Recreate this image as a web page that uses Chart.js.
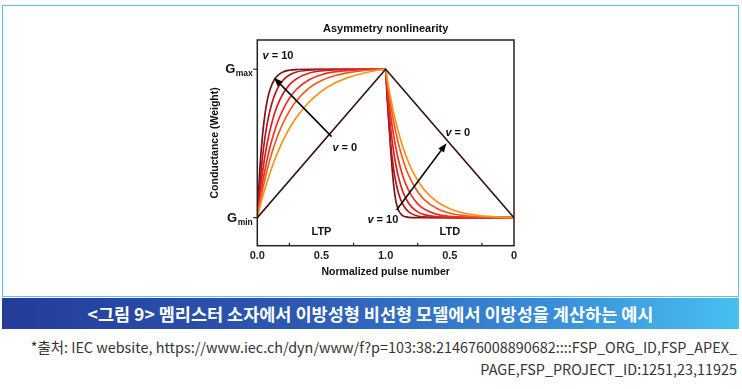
<!DOCTYPE html>
<html><head><meta charset="utf-8">
<script src="https://cdn.jsdelivr.net/npm/chart.js@4"></script>
<style>
html,body{margin:0;padding:0;background:#fff;width:742px;height:389px;overflow:hidden;}
#box{position:absolute;left:2px;top:5px;width:737px;height:292px;border:1px solid #55c4ef;box-sizing:border-box;}
#cv{position:absolute;left:0;top:0;}
#banner{position:absolute;left:2px;top:298px;width:737px;height:31px;background:linear-gradient(to right,#233d99 0%,#2d58b2 40%,#3a8ed8 75%,#48c0f0 100%);color:#fff;font-family:"Noto Sans CJK KR","Noto Sans",sans-serif;font-weight:700;font-size:17.5px;line-height:31px;text-align:center;letter-spacing:0;}
.src{position:absolute;right:5px;font-family:"Noto Sans CJK KR","Noto Sans",sans-serif;font-size:14.4px;color:#333;text-align:right;white-space:nowrap;letter-spacing:0;}
</style></head>
<body>
<div id="box"></div>
<canvas id="cv" width="742" height="296"></canvas>
<div id="banner">&lt;그림 9&gt; 멤리스터 소자에서 이방성형 비선형 모델에서 이방성을 계산하는 예시</div>
<div class="src" style="top:336px">*출처: IEC website, https://www.iec.ch/dyn/www/f?p=103:38:214676008890682::::FSP_ORG_ID,FSP_APEX_</div>
<div class="src" style="top:358px">PAGE,FSP_PROJECT_ID:1251,23,11925</div>
<script>
// ---- data ----
const xTickValues = [0, 0.5, 1, 1.5, 2];
const xTickLabels = ['0.0', '0.5', '1.0', '0.5', '0'];
const curveNames = ['v = 10', 'curve 2', 'curve 3', 'curve 4', 'curve 5', 'curve 6'];
const curveColors = ['#7a1414', '#b3161e', '#d91f1f', '#ec3024', '#f3591d', '#f7941d'];

const ltpX = [0, 0.02, 0.04, 0.06, 0.08, 0.1, 0.13, 0.16, 0.2, 0.25, 0.3, 0.4, 0.5, 0.6, 0.7, 0.85, 1.0];
const ltp1 = [0, 0.33, 0.55, 0.70, 0.80, 0.865, 0.926, 0.959, 0.982, 0.993, 0.998, 1, 1, 1, 1, 1, 1];
const ltp2 = [0, 0.229, 0.405, 0.542, 0.647, 0.727, 0.815, 0.875, 0.926, 0.961, 0.980, 0.994, 0.998, 1, 1, 1, 1];
const ltp3 = [0, 0.165, 0.302, 0.417, 0.513, 0.593, 0.690, 0.763, 0.835, 0.895, 0.933, 0.973, 0.989, 0.995, 0.998, 1, 1];
const ltp4 = [0, 0.122, 0.229, 0.323, 0.405, 0.479, 0.571, 0.648, 0.728, 0.804, 0.860, 0.927, 0.963, 0.982, 0.991, 0.997, 1];
const ltp5 = [0, 0.096, 0.182, 0.261, 0.332, 0.396, 0.481, 0.555, 0.636, 0.718, 0.782, 0.871, 0.924, 0.956, 0.976, 0.993, 1];
const ltp6 = [0, 0.070, 0.135, 0.195, 0.252, 0.304, 0.377, 0.442, 0.519, 0.601, 0.670, 0.776, 0.852, 0.905, 0.942, 0.978, 1];

const ltdX = [1, 1.01, 1.02, 1.04, 1.06, 1.08, 1.1, 1.13, 1.16, 1.2, 1.25, 1.3, 1.4, 1.5, 1.6, 1.7, 1.85, 2.0];
const ltd1 = [1, 0.85, 0.72, 0.45, 0.24, 0.11, 0.05, 0.015, 0.005, 0, 0, 0, 0, 0, 0, 0, 0, 0];
const ltd2 = [1, 0.835, 0.698, 0.487, 0.340, 0.237, 0.165, 0.096, 0.056, 0.027, 0.011, 0.005, 0.001, 0, 0, 0, 0, 0];
const ltd3 = [1, 0.878, 0.771, 0.595, 0.458, 0.353, 0.273, 0.185, 0.125, 0.074, 0.039, 0.020, 0.006, 0.002, 0, 0, 0, 0];
const ltd4 = [1, 0.909, 0.827, 0.684, 0.566, 0.468, 0.387, 0.291, 0.219, 0.150, 0.093, 0.058, 0.022, 0.009, 0.003, 0.001, 0, 0];
const ltd5 = [1, 0.932, 0.869, 0.756, 0.657, 0.571, 0.497, 0.403, 0.326, 0.247, 0.174, 0.122, 0.061, 0.030, 0.015, 0.007, 0.002, 0];
const ltd6 = [1, 0.946, 0.896, 0.802, 0.718, 0.643, 0.575, 0.487, 0.413, 0.330, 0.250, 0.189, 0.107, 0.060, 0.033, 0.017, 0.005, 0];

const linearX = [0, 1, 2];
const linearY = [0, 1, 0];

// ---- build datasets ----
const ltpSets = [ltp1, ltp2, ltp3, ltp4, ltp5, ltp6];
const ltdSets = [ltd1, ltd2, ltd3, ltd4, ltd5, ltd6];
const datasets = [];
datasets.push({
  label: 'v = 0', data: linearX.map((x, i) => ({x, y: linearY[i]})),
  borderColor: '#3a1212', borderWidth: 1.6, pointRadius: 0, tension: 0, fill: false
});
for (let k = ltpSets.length - 1; k >= 0; k--) {
  const pts = ltpX.map((x, i) => ({x, y: ltpSets[k][i]}))
    .concat(ltdX.slice(1).map((x, i) => ({x, y: ltdSets[k][i + 1]})));
  datasets.push({
    label: curveNames[k], data: pts, borderColor: curveColors[k], borderWidth: 1.7,
    pointRadius: 0, cubicInterpolationMode: 'monotone', fill: false
  });
}

const BOLD = 'bold 11px "Liberation Sans", Arial, sans-serif';

function arrow(ctx, x1, y1, x2, y2) {
  const a = Math.atan2(y2 - y1, x2 - x1), L = 9, W = 3.5;
  const bx = x2 - L * Math.cos(a), by = y2 - L * Math.sin(a);
  ctx.beginPath(); ctx.moveTo(x1, y1); ctx.lineTo(bx, by); ctx.stroke();
  ctx.beginPath(); ctx.moveTo(x2, y2);
  ctx.lineTo(bx + W * Math.sin(a), by - W * Math.cos(a));
  ctx.lineTo(bx - W * Math.sin(a), by + W * Math.cos(a));
  ctx.closePath(); ctx.fill();
}
function vLabel(ctx, text, cx, cy) {
  ctx.font = 'italic bold 11px "Liberation Sans", Arial, sans-serif';
  const w1 = ctx.measureText('v').width;
  ctx.font = BOLD;
  const w2 = ctx.measureText(text).width;
  const x0 = cx - (w1 + w2) / 2;
  ctx.textAlign = 'left'; ctx.textBaseline = 'middle';
  ctx.font = 'italic bold 11px "Liberation Sans", Arial, sans-serif';
  ctx.fillText('v', x0, cy);
  ctx.font = BOLD;
  ctx.fillText(text, x0 + w1, cy);
}
function gLabel(ctx, sub, rx, cy) {
  ctx.textBaseline = 'alphabetic'; ctx.textAlign = 'left';
  ctx.font = 'bold 8.5px "Liberation Sans", Arial, sans-serif';
  const ws = ctx.measureText(sub).width;
  ctx.font = 'bold 13px "Liberation Sans", Arial, sans-serif';
  const wg = ctx.measureText('G').width;
  const x0 = rx - ws - wg;
  ctx.fillText('G', x0, cy + 4);
  ctx.font = 'bold 8.5px "Liberation Sans", Arial, sans-serif';
  ctx.fillText(sub, x0 + wg + 0.5, cy + 7);
}

const decor = {
  id: 'decor',
  afterDatasetsDraw(chart) {
    const {ctx, chartArea: ca, scales: {x, y}} = chart;
    ctx.save();
    ctx.strokeStyle = '#222'; ctx.fillStyle = '#111'; ctx.lineWidth = 1.5;
    ctx.strokeRect(ca.left, ca.top, ca.right - ca.left, ca.bottom - ca.top);
    // x minor ticks (inward)
    ctx.lineWidth = 1.2;
    [0.25, 0.75, 1.25, 1.75].forEach(v => {
      const px = x.getPixelForValue(v);
      ctx.beginPath(); ctx.moveTo(px, ca.bottom); ctx.lineTo(px, ca.bottom - 3); ctx.stroke();
    });
    // y ticks at Gmin, Gmax (outward)
    [0, 1].forEach(v => {
      const py = y.getPixelForValue(v);
      ctx.beginPath(); ctx.moveTo(ca.left, py); ctx.lineTo(ca.left - 4, py); ctx.stroke();
    });
    ctx.fillStyle = '#111';
    gLabel(ctx, 'max', ca.left - 5, y.getPixelForValue(1));
    gLabel(ctx, 'min', ca.left - 5, y.getPixelForValue(0));
    // arrows
    ctx.lineWidth = 1.5; ctx.strokeStyle = '#000'; ctx.fillStyle = '#000';
    arrow(ctx, x.getPixelForValue(0.579), y.getPixelForValue(0.546), x.getPixelForValue(0.130), y.getPixelForValue(0.943));
    arrow(ctx, x.getPixelForValue(1.085), y.getPixelForValue(0.052), x.getPixelForValue(1.474), y.getPixelForValue(0.501));
    ctx.fillStyle = '#111';
    vLabel(ctx, ' = 10', x.getPixelForValue(0.161), y.getPixelForValue(1.09));
    vLabel(ctx, ' = 0', x.getPixelForValue(0.682), y.getPixelForValue(0.470));
    vLabel(ctx, ' = 0', x.getPixelForValue(1.562), y.getPixelForValue(0.571));
    vLabel(ctx, ' = 10', x.getPixelForValue(0.978), y.getPixelForValue(-0.015));
    ctx.font = BOLD; ctx.textAlign = 'center'; ctx.textBaseline = 'middle';
    ctx.fillText('LTP', x.getPixelForValue(0.5), y.getPixelForValue(-0.096));
    ctx.fillText('LTD', x.getPixelForValue(1.5), y.getPixelForValue(-0.096));
    // titles
    const cx = (ca.left + ca.right) / 2;
    ctx.fillText('Asymmetry nonlinearity', cx, 29);
    ctx.font = 'bold 10.5px "Liberation Sans", Arial, sans-serif';
    ctx.fillText('Normalized pulse number', cx, 272);
    ctx.translate(215, (ca.top + ca.bottom) / 2);
    ctx.rotate(-Math.PI / 2);
    ctx.fillText('Conductance (Weight)', 0, 0);
    ctx.restore();
  }
};

new Chart(document.getElementById('cv'), {
  type: 'line',
  data: {datasets},
  options: {
    responsive: false, animation: false, devicePixelRatio: 1,
    layout: {padding: {left: 247.3, right: 228, top: 40, bottom: 20.3}},
    plugins: {legend: {display: false}, tooltip: {enabled: false}, title: {display: false}},
    scales: {
      x: {
        type: 'linear', min: 0, max: 2,
        afterFit(s) { s.height = 30; },
        afterBuildTicks(s) { s.ticks = xTickValues.map(v => ({value: v})); },
        grid: {display: false, drawTicks: false}, border: {display: false},
        ticks: {padding: 4, color: '#222', maxRotation: 0, autoSkip: false,
          font: {family: '"Liberation Sans", Arial, sans-serif', weight: 'bold', size: 11},
          callback: (v, i) => xTickLabels[i]}
      },
      y: {
        type: 'linear', min: -0.189, max: 1.197,
        afterFit(s) { s.width = 10; },
        grid: {display: false, drawTicks: false}, border: {display: false},
        ticks: {display: false}
      }
    }
  },
  plugins: [decor]
});
</script>
</body></html>
